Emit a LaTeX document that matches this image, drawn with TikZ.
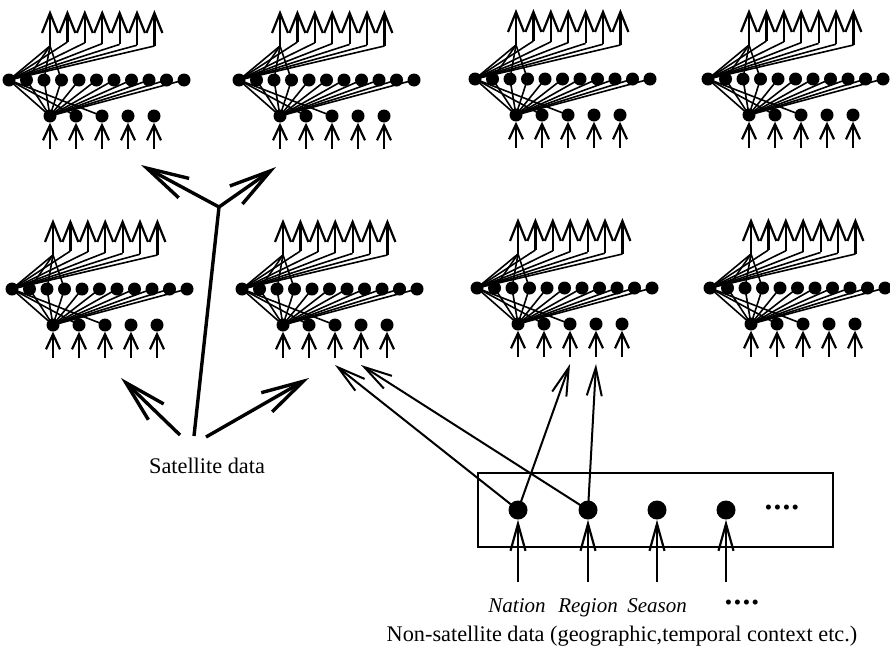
\documentclass[tikz,border=0pt]{standalone}
\usepackage{fontspec}
\setmainfont{Liberation Serif}
\usetikzlibrary{arrows.meta,calc}

\tikzset{
  unit/.style={circle,fill=black,inner sep=0pt,minimum size=13pt},
  cue/.style={circle,fill=black,inner sep=0pt,minimum size=19pt},
  link/.style={line width=1.6pt},
  outarrow/.style={line width=2.2pt,-{Straight Barb[length=20pt,width=16pt]}},
  inarrow/.style={line width=2.2pt,-{Straight Barb[length=15pt,width=14pt]}},
  cuearrow/.style={line width=2.2pt,-{Straight Barb[length=27pt,width=15pt]}},
  feedarrow/.style={line width=2pt,-{Straight Barb[length=28pt,width=15pt]}},
  bigarrow/.style={line width=3.4pt,-{Straight Barb[length=42pt,width=22pt]}},
  txt/.style={font=\fontsize{22.3}{26}\selectfont,inner sep=0pt},
  itxt/.style={font=\fontsize{21}{25}\selectfont\itshape,inner sep=0pt,anchor=base},
  dotrow/.style={font=\fontsize{21}{21}\selectfont,inner sep=0pt},
}

% one partially connected network: 5 inputs, 11 hidden units, 7 outputs
% #1 = name prefix, #2,#3 = position of the first hidden unit
\newcommand{\netmodule}[3]{%
  \foreach \k in {1,...,11}
    \node[unit] (#1h\k) at ({#2+17.5*(\k-1)},#3) {};
  \foreach \j in {1,...,7}{
    \pgfmathsetmacro\by{\j==1 ? #3-34 : #3-38+0.8*(\j-2)}
    \coordinate (#1t\j) at ({#2+41+17.4*(\j-1)},{#3-70});
    \coordinate (#1b\j) at ({#2+41+17.4*(\j-1)},\by);
    \draw[link] (#1h1.center) -- (#1b\j);
    \draw[outarrow] (#1b\j) -- (#1t\j);
  }
  \foreach \k in {2,3,4}
    \draw[link] (#1b1) -- (#1h\k.center);
  \foreach \i in {1,...,5}{
    \node[unit] (#1i\i) at ({#2+41+26*(\i-1)},{#3+36}) {};
    \coordinate (#1s\i) at ({#2+41+26*(\i-1)},{#3+69});
    \draw[inarrow] (#1s\i) -- (#1i\i.south);
  }
  \foreach \i in {1,2,3}
    \draw[link] (#1h1.center) -- (#1i\i.center);
  \foreach \k in {2,...,11}
    \draw[link] (#1i1.center) -- (#1h\k.center);
}

\begin{document}
\begin{tikzpicture}[x=1pt,y=-1pt]
\useasboundingbox (0,0) rectangle (890,648);

% eight regional networks
\netmodule{A}{9}{80}
\netmodule{B}{239}{80}
\netmodule{C}{475}{79}
\netmodule{D}{708}{79}
\netmodule{E}{12}{289}
\netmodule{F}{242}{289}
\netmodule{G}{477}{288}
\netmodule{H}{710}{288}

% satellite data feeding the networks
\node[txt] (sat) at (207,466) {Satellite data};
\coordinate (sa) at (180,435);
\coordinate (sb) at (194,436);
\coordinate (sc) at (206,437);
\coordinate (jn) at (219,207);
\coordinate (ul) at (141,165);
\coordinate (ur) at (276,167);
\coordinate (ll) at (121,378);
\coordinate (lr) at (309,378);
\draw[line width=3.4pt,line join=round] (sb) -- (jn);
\draw[bigarrow] (jn) -- (ul);
\draw[bigarrow] (jn) -- (ur);
\draw[bigarrow] (sa) -- (ll);
\draw[bigarrow] (sc) -- (lr);

% non-satellite context units
\node[draw,line width=1.3pt,minimum width=355pt,minimum height=74pt,inner sep=0pt]
  (box) at (655.5,510) {};
\node[cue] (nat) at (518,510) {};
\node[cue] (reg) at (588,510) {};
\node[cue] (sea) at (657,510) {};
\node[cue] (oth) at (726,510) {};
\node[dotrow] (boxdots) at (782,510) {•\kern1.6pt•\kern1.6pt•\kern1.6pt•};
\foreach \n/\x in {nat/518,reg/588,sea/657,oth/726}{
  \coordinate (\n s) at (\x,582);
  \draw[cuearrow] (\n s) -- (\n.south);
}

% context inputs routed to the networks
\coordinate (f1) at ($(Fs3)+(0,7)$);
\coordinate (f2) at ($(Fs4)+(0,7)$);
\coordinate (g1) at ($(Gs3)+(0,7)$);
\coordinate (g2) at ($(Gs4)+(0,7)$);
\draw[feedarrow] (nat.center) -- (f1);
\draw[feedarrow] (reg.center) -- (f2);
\draw[feedarrow] (nat.center) -- (g1);
\draw[feedarrow] (reg.center) -- (g2);

% labels
\node[itxt] (lnat) at (517,612) {Nation};
\node[itxt] (lreg) at (588,612) {Region};
\node[itxt] (lsea) at (657,612) {Season};
\node[dotrow] (ldots) at (742,605) {•\kern1.6pt•\kern1.6pt•\kern1.6pt•};
\node[txt,anchor=base] (nonsat) at (622,641)
  {Non-satellite data (geographic,temporal context etc.)};
\end{tikzpicture}
\end{document}
